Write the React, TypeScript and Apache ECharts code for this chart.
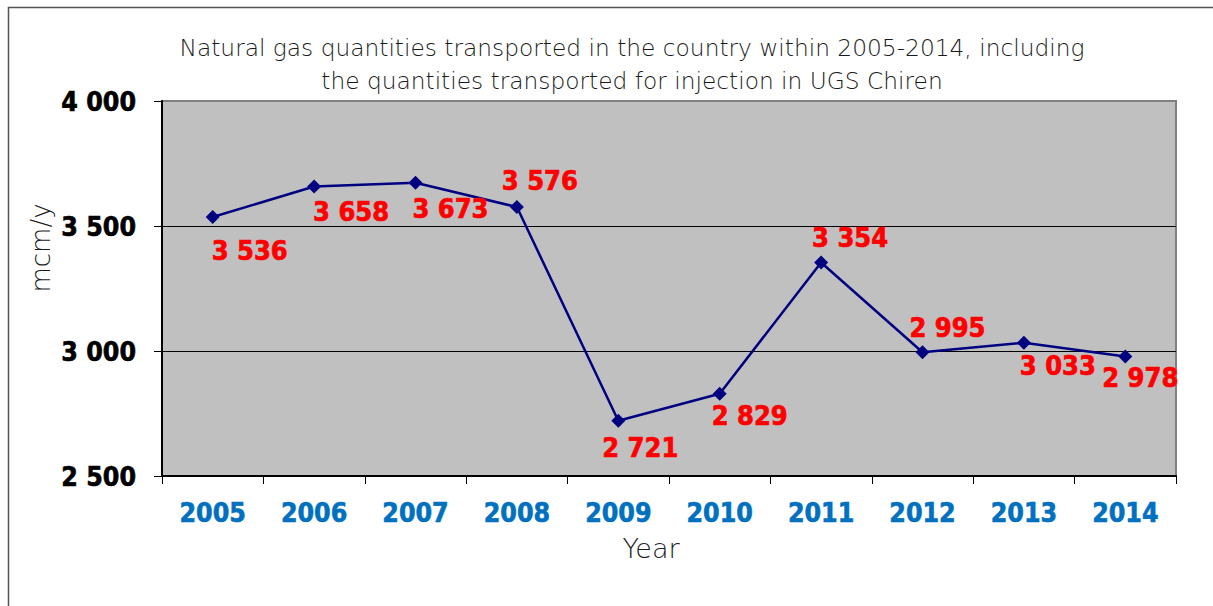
import React, { useEffect, useRef } from "react";
import * as echarts from "echarts";

const years = ["2005", "2006", "2007", "2008", "2009", "2010", "2011", "2012", "2013", "2014"];
const values = [3536, 3658, 3673, 3576, 2721, 2829, 3354, 2995, 3033, 2978];
const labelOffsets: number[][] = [
  [37, 33], [37, 25], [35, 26], [23, -27], [22, 27],
  [30, 22], [29, -25], [25, -25], [34, 23], [15, 21],
];
const titleLines = [
  "Natural gas quantities transported in the country within 2005-2014, including",
  "the quantities transported for injection in UGS Chiren",
];
const yName = "mcm/y";
const xName = "Year";

const fmt = (v: number) => {
  const s = String(Math.round(v));
  return s.replace(/\B(?=(\d{3})+(?!\d))/g, " ");
};

export default function App() {
  const ref = useRef<HTMLDivElement>(null);
  useEffect(() => {
    const chart = echarts.init(ref.current!, null, { renderer: "svg" });
    const boldFont = "'DejaVu Sans Condensed', 'DejaVu Sans', sans-serif";
    chart.setOption({
      animation: false,
      backgroundColor: "#ffffff",
      grid: {
        left: 162,
        top: 101,
        right: 37,
        bottom: 130,
        show: true,
        backgroundColor: "#C0C0C0",
        borderColor: "#808080",
        borderWidth: 2,
      },
      graphic: [
        {
          type: "rect",
          shape: { x: 8.5, y: 7.5, width: 1300, height: 700 },
          style: { fill: "none", stroke: "#555", lineWidth: 1.5 },
          silent: true,
          z: 0,
        },
        {
          type: "text",
          x: 632,
          y: 31,
          style: {
            text: titleLines.join("\n"),
            font: "200 23.3px 'DejaVu Sans', sans-serif",
            fill: "#1a1a1a",
            textAlign: "center",
            lineHeight: 33,
          },
        },
        {
          type: "text",
          x: 41,
          y: 248,
          rotation: Math.PI / 2,
          style: {
            text: yName,
            font: "200 26px 'DejaVu Sans', sans-serif",
            fill: "#1a1a1a",
            textAlign: "center",
            textVerticalAlign: "middle",
          },
        },
        {
          type: "text",
          x: 651,
          y: 548,
          style: {
            text: xName,
            font: "200 27px 'DejaVu Sans', sans-serif",
            fill: "#1a1a1a",
            textAlign: "center",
            textVerticalAlign: "middle",
          },
        },
      ],
      xAxis: {
        type: "category",
        data: years,
        boundaryGap: true,
        axisLine: { show: true, lineStyle: { color: "#000", width: 2 } },
        axisTick: { show: true, length: 8, lineStyle: { color: "#000", width: 1 } },
        axisLabel: {
          margin: 23,
          color: "#0070C0",
          fontFamily: boldFont,
          fontWeight: "bold",
          fontSize: 26.5,
          textBorderColor: "#0070C0",
          textBorderWidth: 0.6,
        },
        splitLine: { show: false },
      },
      yAxis: {
        type: "value",
        min: 2500,
        max: 4000,
        interval: 500,
        axisLine: { show: true, lineStyle: { color: "#000", width: 2 } },
        axisTick: { show: true, length: 8, lineStyle: { color: "#000", width: 1 } },
        axisLabel: {
          margin: 26,
          color: "#000",
          fontFamily: boldFont,
          fontWeight: "bold",
          fontSize: 26.5,
          textBorderColor: "#000",
          textBorderWidth: 0.6,
          formatter: (v: number) => fmt(v),
        },
        splitLine: {
          show: true,
          lineStyle: { color: ["#000", "#000", "#000", "#808080"], width: 1 },
        },
      },
      series: [
        {
          type: "line",
          data: values.map((v, i) => ({
            value: v,
            label: {
              show: true,
              position: "inside",
              offset: labelOffsets[i],
            },
          })),
          symbol: "diamond",
          symbolSize: 14,
          lineStyle: { color: "#000080", width: 2.5 },
          itemStyle: { color: "#000080" },
          label: {
            show: true,
            color: "#FF0000",
            fontFamily: boldFont,
            fontWeight: "bold",
            fontSize: 27,
            textBorderColor: "#FF0000",
            textBorderWidth: 0.7,
            formatter: (p: any) => fmt(p.value),
          },
        },
      ],
    });
    return () => chart.dispose();
  }, []);
  return (
    <div
      ref={ref}
      style={{ position: "fixed", left: 0, top: 0, width: 1213, height: 606 }}
    />
  );
}
